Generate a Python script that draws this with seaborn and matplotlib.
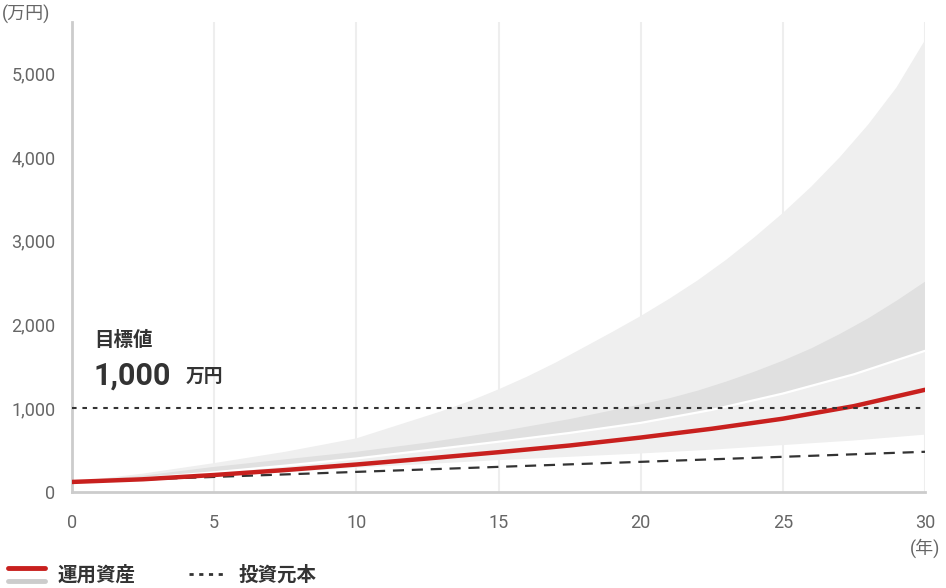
import numpy as np
import pandas as pd
import matplotlib
matplotlib.use("Agg")
import matplotlib.pyplot as plt
import seaborn as sns
from matplotlib.lines import Line2D

# years (main grid)
years = [0, 2.5, 5, 7.5, 10, 12.5, 15, 17.5, 20, 22.5, 25, 27.5, 30]
# 投資元本 (万円)
principal = [120, 150, 180, 210, 240, 270, 300, 330, 360, 390, 420, 450, 480]
# 運用資産 (red line)
median = [120, 152, 203, 262, 328, 400, 475, 555, 650, 755, 875, 1025, 1220]
# white line (lower edge of darker band)
mean = [120, 165, 235, 315, 400, 500, 600, 705, 825, 980, 1175, 1405, 1685]
# light band lower edge
outer_lower = [120, 145, 185, 235, 290, 335, 380, 420, 460, 505, 560, 615, 685]

# darker band upper edge (read more densely where it bends)
mid_years = [0, 2.5, 5, 7.5, 10, 12.5, 15, 17.5, 20, 21, 22, 23, 24, 25, 26, 27, 28, 29, 30]
mid_upper = [120, 195, 300, 390, 480, 590, 720, 870, 1045, 1118, 1209, 1317, 1436, 1567,
             1714, 1885, 2072, 2283, 2510]

# light band upper edge
out_years = [0, 2.5, 5, 7.5, 10, 13, 14, 15, 16, 17, 18, 19, 20, 21, 22, 23, 24, 25, 26,
             27, 28, 29, 30]
outer_upper = [120, 220, 345, 480, 640, 965, 1086, 1225, 1376, 1543, 1726, 1910, 2100, 2305,
               2525, 2770, 3040, 3330, 3645, 3995, 4385, 4830, 5394]

target = 1000
yticks = [0, 1000, 2000, 3000, 4000, 5000]
xticks = [0, 5, 10, 15, 20, 25, 30]

df = pd.DataFrame({"year": years, "principal": principal, "median": median,
                   "mean": mean, "outer_lower": outer_lower})

sns.set_theme(style="white")
plt.rcParams['font.family'] = ['Roboto', 'Noto Sans CJK JP', 'DejaVu Sans']

fig = plt.figure(figsize=(9.46, 5.88), dpi=100)
ax = fig.add_axes([72 / 946, 1 - 492 / 588, 853 / 946, 470 / 588])

# bands as polygons: upper edge forward, lower edge back
ax.fill(np.concatenate([out_years, years[::-1]]),
        np.concatenate([outer_upper, outer_lower[::-1]]),
        color="#efefef", lw=0, zorder=1)
ax.fill(np.concatenate([mid_years, years[::-1]]),
        np.concatenate([mid_upper, mean[::-1]]),
        color="#e0e0e0", lw=0, zorder=2)

sns.lineplot(data=df, x="year", y="mean", ax=ax, color="white", linewidth=1.6, zorder=3)
sns.lineplot(data=df, x="year", y="principal", ax=ax, color="#333333", linewidth=1.6,
             linestyle=(0, (5, 3.5)), zorder=4)
sns.lineplot(data=df, x="year", y="median", ax=ax, color="#c8201e", linewidth=3.2, zorder=5)
ax.axhline(target, color="#333333", linewidth=1.5, linestyle=(0, (2.2, 2.8)), zorder=6)

ax.set_xlim(0, 30)
ax.set_ylim(0, 5610)
ax.set_xticks(xticks)
ax.set_yticks(yticks)
ax.set_xticklabels([str(v) for v in xticks])
ax.set_yticklabels([f"{v:,}" for v in yticks])
ax.tick_params(axis="both", length=0, labelsize=13, colors="#666666")
ax.tick_params(axis="x", pad=16)
ax.tick_params(axis="y", pad=12)
ax.set_xlabel("")
ax.set_ylabel("")

for x in xticks[1:]:
    ax.axvline(x, color="#eeeeee", linewidth=1.5, zorder=0)

for s in ["top", "right"]:
    ax.spines[s].set_visible(False)
for s in ["left", "bottom"]:
    ax.spines[s].set_color("#cccccc")
    ax.spines[s].set_linewidth(2)

# units
fig.text(2 / 946, 1 - 14 / 588, "(万円)", fontsize=13, color="#666666", va="center", ha="left")
fig.text(925 / 946, 1 - 548 / 588, "(年)", fontsize=13, color="#666666", va="center", ha="center")

# target annotation
ax.text(0.8, 1810, "目標値", fontsize=14, fontweight="bold", color="#333333", va="center")
ax.text(0.75, 1390, "1,000", fontsize=22, fontweight="bold", color="#333333", va="center")
ax.text(4.0, 1380, "万円", fontsize=13.5, fontweight="bold", color="#333333", va="center")

# legend
def fx(px):
    return px / 946

def fy(py):
    return 1 - py / 588

fig.add_artist(Line2D([fx(8), fx(45)], [fy(568), fy(568)], color="#c8201e", linewidth=3.5))
fig.add_artist(Line2D([fx(8), fx(45)], [fy(581), fy(581)], color="#cccccc", linewidth=3.5))
fig.text(fx(58), fy(575), "運用資産", fontsize=14, fontweight="bold", color="#333333", va="center")
fig.add_artist(Line2D([fx(189), fx(226)], [fy(574), fy(574)], color="#333333", linewidth=2,
                      linestyle=(0, (1.5, 2))))
fig.text(fx(239), fy(575), "投資元本", fontsize=14, fontweight="bold", color="#333333", va="center")

fig.savefig("out.png", dpi=100)
